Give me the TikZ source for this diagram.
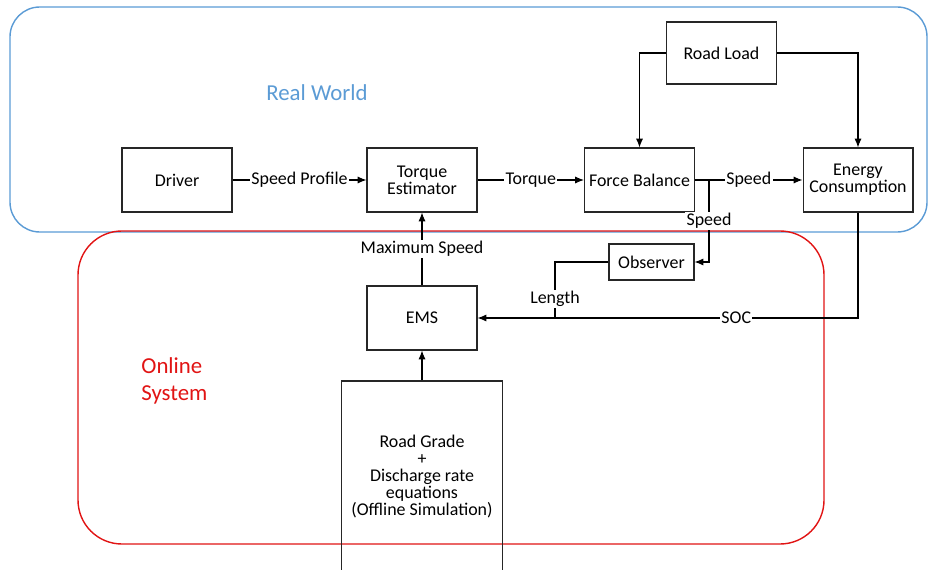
\documentclass[tikz,border=0pt]{standalone}
\usepackage{fontspec}
\setmainfont{Carlito}
\usetikzlibrary{arrows.meta}

\definecolor{worldblue}{RGB}{91,155,213}
\definecolor{onlinered}{RGB}{225,20,20}

\tikzset{
  block/.style={draw=black!85, line width=0.6pt, minimum width=2.2cm, minimum height=1.28cm,
    align=center, inner sep=1pt, font=\fontsize{10.2}{9.7}\selectfont},
  lbl/.style={fill=white, inner sep=0.8pt, font=\fontsize{10.2}{9.7}\selectfont},
  region/.style={line width=0.8pt}
}

\begin{document}
\begin{tikzpicture}[x=0.02cm, y=-0.02cm, >={Latex[length=5pt,width=4pt]}, line width=0.6pt]
    \useasboundingbox (0,0) rectangle (928,570);

    % Regions
    \draw[region, worldblue, rounded corners=17pt] (10,7) rectangle (927,232);
    \draw[region, onlinered, rounded corners=25pt] (78,231) rectangle (824,544);
    \node[worldblue, font=\fontsize{13}{15}\selectfont] (realworld) at (317,93) {Real World};
    \node[onlinered, align=left, anchor=west, font=\fontsize{13}{15.5}\selectfont] (online) at (135,381) {Online\\System};

    % Blocks
    \node[block] (driver) at (177,180) {Driver};
    \node[block] (torque) at (422,180) {Torque\\Estimator};
    \node[block] (force) at (639.5,180) {Force Balance};
    \node[block] (energy) at (858,180) {Energy\\Consumption};
    \node[block, minimum height=1.24cm] (roadload) at (721.5,53) {Road Load};
    \node[block, minimum width=1.7cm, minimum height=0.72cm] (observer) at (651.5,262) {Observer};
    \node[block] (ems) at (422,318) {EMS};
    \node[block, minimum width=3.22cm, minimum height=3.82cm]
      (grade) at (422,476.5) {Road Grade\\+\\Discharge rate\\equations\\(Offline Simulation)};

    % Junctions
    \coordinate (split) at (709,180);
    \coordinate (join) at (555,318);

    % Signal flow
    \draw[->] (driver) -- node[lbl] {Speed Profile} (torque);
    \draw[->] (torque) -- node[lbl] {Torque} (force);
    \draw[->] (force) -- node[lbl] {Speed} (energy);
    \draw[->] (roadload.west) -| (force.north);
    \draw[->] (roadload.east) -| (energy.north);
    \draw[->] (split) |- node[lbl, pos=0.25] {Speed} (observer.east);
    \draw (observer.west) -| node[lbl, pos=0.83] {Length} (join);
    \draw[->] (energy.south) |- node[lbl, pos=0.66] {SOC} (ems.east);
    \draw[->] (ems) -- node[lbl] {Maximum Speed} (torque);
    \draw[->] (grade) -- (ems);
\end{tikzpicture}
\end{document}
